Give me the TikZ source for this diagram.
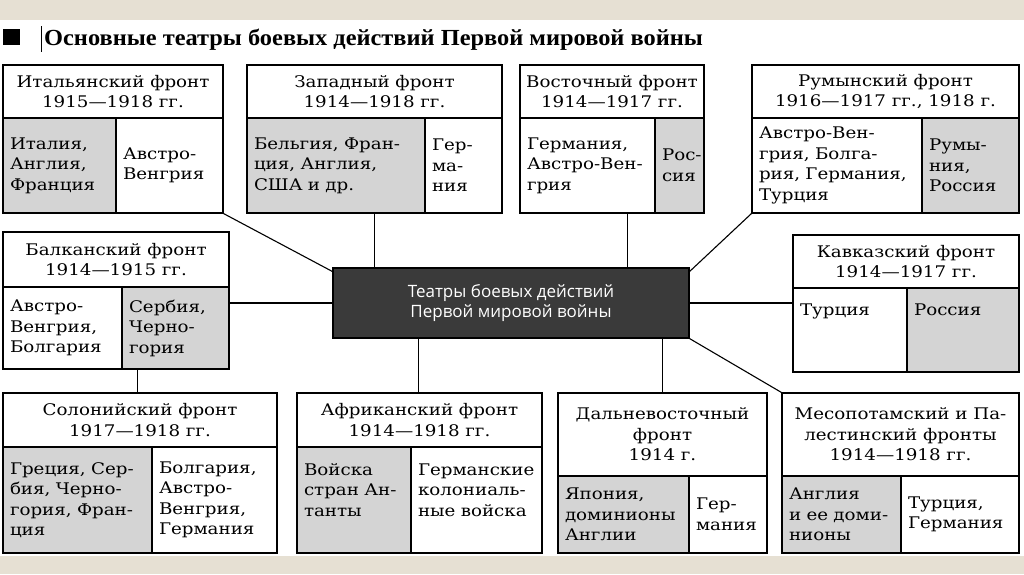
\documentclass[tikz,border=0pt]{standalone}
\usepackage{fontspec}
\setmainfont{DejaVu Serif}[FakeStretch=1.14]
\newfontfamily\titlefont{Liberation Serif}[FakeStretch=1.06]
\newfontfamily\hubfont{Open Sans}
\usetikzlibrary{positioning, calc}
\definecolor{cellgrey}{HTML}{D4D4D4}
\definecolor{hubgrey}{HTML}{3A3A3A}
\definecolor{paper}{HTML}{E6E0D3}
\newcommand\cellfont{\fontsize{16}{20.5}\selectfont\hyphenpenalty=10000\exhyphenpenalty=10000}

\tikzset{
  box/.style={draw, line width=1.1pt, inner sep=0pt},
  head/.style={box, align=center, font=\cellfont},
  cell/.style={box, align=left, inner xsep=7pt, font=\cellfont},
  hub/.style={draw, fill=hubgrey, text=white, line width=1.1pt, align=center,
    minimum width=356pt, minimum height=70pt, font=\hubfont\fontsize{17}{20}\selectfont},
  link/.style={line width=1.1pt},
}

\begin{document}
\begin{tikzpicture}[x=1pt, y=-1pt]
\useasboundingbox (0,0) rectangle (1024,574);
\fill[paper] (0,0) rectangle (1024,20);
\fill[paper] (0,556) rectangle (1024,574);

% title
\fill (3,29) rectangle (20,45);
\draw[line width=0.8pt] (41,26) -- (41,52);
\node[anchor=base west, inner sep=0pt, font=\titlefont\bfseries\fontsize{23}{23}\selectfont] (title) at (44,45)
  {Основные театры боевых действий Первой мировой войны};

% fronts
\foreach \nm/\xa/\xs/\xb/\ya/\yh/\yb/\hd/\lt/\rt/\fl/\fr in {
    ital/3/116/223/65/118/213/{Итальянский фронт\\1915—1918 гг.}/{Италия,\\Англия,\\Франция}/{Австро-\\Венгрия}/cellgrey/white,
    west/247/425/502/65/118/213/{Западный фронт\\1914—1918 гг.}/{Бельгия, Фран-\\ция, Англия,\\США и др.}/{Гер-\\ма-\\ния}/cellgrey/white,
    east/520/655/704/65/118/213/{Восточный фронт\\1914—1917 гг.}/{Германия,\\Австро-Вен-\\грия}/{Рос-\\сия}/white/cellgrey,
    rum/752/922/1019/65/118/213/{Румынский фронт\\1916—1917 гг., 1918 г.}/{Австро-Вен-\\грия, Болга-\\рия, Германия,\\Турция}/{Румы-\\ния,\\Россия}/white/cellgrey,
    bal/3/122/229/232/287/369/{Балканский фронт\\1914—1915 гг.}/{Австро-\\Венгрия,\\Болгария}/{Сербия,\\Черно-\\гория}/white/cellgrey,
    cauc/793/907/1019/235/288/372/{Кавказский фронт\\1914—1917 гг.}/{Турция\\~\\~}/{Россия\\~\\~}/white/cellgrey,
    sol/3/152/277/393/447/553/{Солонийский фронт\\1917—1918 гг.}/{Греция, Сер-\\бия, Черно-\\гория, Фран-\\ция}/{Болгария,\\Австро-\\Венгрия,\\Германия}/cellgrey/white,
    afr/297/411/542/393/447/553/{Африканский фронт\\1914—1918 гг.}/{Войска\\стран Ан-\\танты\\~}/{Германские\\колониаль-\\ные войска\\~}/cellgrey/white,
    fe/558/689/767/393/476/553/{Дальневосточный\\фронт\\1914 г.}/{Япония,\\доминионы\\Англии}/{Гер-\\мания}/cellgrey/white,
    meso/782/901/1019/393/476/553/{Месопотамский и Па-\\лестинский фронты\\1914—1918 гг.}/{Англия\\и ее доми-\\нионы}/{Турция,\\Германия}/cellgrey/white%
} {
    \pgfmathsetmacro\wh{\xb-\xa}
    \pgfmathsetmacro\hh{\yh-\ya}
    \pgfmathsetmacro\hc{\yb-\yh}
    \pgfmathsetmacro\tl{\xs-\xa-14}
    \pgfmathsetmacro\tr{\xb-\xs-14}
    \node[head, minimum width=\wh pt, minimum height=\hh pt] (\nm) at ({(\xa+\xb)/2},{(\ya+\yh)/2}) {\hd};
    \node[cell, fill=\fl, text width=\tl pt, minimum height=\hc pt] (\nm-l) at ({(\xa+\xs)/2},{(\yh+\yb)/2}) {\lt};
    \node[cell, fill=\fr, text width=\tr pt, minimum height=\hc pt] (\nm-r) at ({(\xs+\xb)/2},{(\yh+\yb)/2}) {\rt};
}

% centre
\node[hub] (hub) at (511,303) {Театры боевых действий\\Первой мировой войны};

% connectors
\coordinate (hw) at ($(hub.north west)!0.118!(hub.north east)$);
\coordinate (he) at ($(hub.north west)!0.826!(hub.north east)$);
\coordinate (ha) at ($(hub.south west)!0.242!(hub.south east)$);
\coordinate (hf) at ($(hub.south west)!0.924!(hub.south east)$);
\coordinate (bs) at ($(bal-r.south west)+(16,0)$);
\draw[link] (ital-r.south east) -- (hub.170);
\draw[link] (hw) -- (hw |- west-l.south);
\draw[link] (he) -- (he |- east-l.south);
\draw[link] (rum-l.south west) -- (hub.10);
\draw[link] (hub.west) -- (hub.west -| bal-r.east);
\draw[link] (hub.east) -- (hub.east -| cauc-l.west);
\draw[link] (bs) -- (bs |- sol.north);
\draw[link] (ha) -- (ha |- afr.north);
\draw[link] (hf) -- (hf |- fe.north);
\draw[link] (hub.south east) -- (meso.north west);
\end{tikzpicture}
\end{document}
